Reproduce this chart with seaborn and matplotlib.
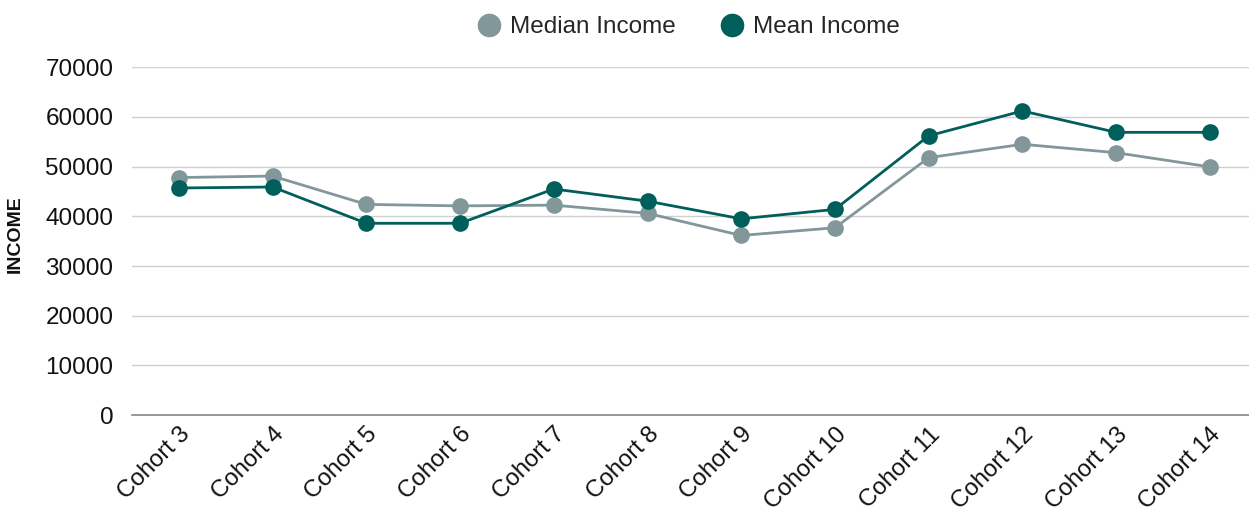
import matplotlib
matplotlib.use("Agg")
import matplotlib.pyplot as plt
import seaborn as sns
import pandas as pd
from matplotlib.lines import Line2D

cohorts = ["Cohort 3", "Cohort 4", "Cohort 5", "Cohort 6", "Cohort 7", "Cohort 8",
           "Cohort 9", "Cohort 10", "Cohort 11", "Cohort 12", "Cohort 13", "Cohort 14"]
median_income = [47800, 48100, 42400, 42100, 42250, 40600, 36150, 37700, 51800, 54500, 52800, 49950]
mean_income = [45700, 45900, 38600, 38600, 45500, 43050, 39500, 41400, 56200, 61200, 56900, 56900]
series_names = ["Median Income", "Mean Income"]
colors = ["#82979a", "#005f5a"]
yticks = [0, 10000, 20000, 30000, 40000, 50000, 60000, 70000]

df = pd.DataFrame({
    "Cohort": cohorts * 2,
    "Income": median_income + mean_income,
    "Series": [series_names[0]] * len(cohorts) + [series_names[1]] * len(cohorts),
})

sns.set_style("white")
plt.rcParams["font.family"] = ["Liberation Sans", "DejaVu Sans"]

fig = plt.figure(figsize=(12.49, 5.17), dpi=100)
ax = fig.add_axes([0.1057, 0.197, 0.9005, 0.673])

sns.lineplot(data=df, x="Cohort", y="Income", hue="Series", palette=colors,
             marker="o", markersize=12, markeredgewidth=0, linewidth=2.0,
             sort=False, ax=ax, legend=False)

ax.set_xlim(-0.5, len(cohorts) - 0.5)
ax.set_ylim(0, 70000)
ax.set_yticks(yticks)
ax.set_yticklabels([str(v) for v in yticks], fontsize=17.5, color="#111111")
ax.yaxis.grid(True, color="#d0d0d0", linewidth=1.0)
ax.set_axisbelow(True)
for s in ["top", "right", "left"]:
    ax.spines[s].set_visible(False)
ax.spines["bottom"].set_color("#888888")
ax.spines["bottom"].set_linewidth(1.2)
ax.tick_params(axis="y", length=0, pad=13.5)
ax.tick_params(axis="x", length=0, pad=6)
ax.set_xticks(range(len(cohorts)))
ax.set_xticklabels(cohorts, rotation=45, ha="right", rotation_mode="anchor",
                   fontsize=17.3, color="#111111")
ax.set_xlabel("")
ax.set_ylabel("")
fig.text(15 / 1249, 1 - 234 / 517, "INCOME", rotation=90, fontsize=14,
         fontweight="bold", ha="center", va="center", color="#111111")

handles = [Line2D([0], [0], marker="o", linestyle="", markersize=17,
                  markerfacecolor=c, markeredgewidth=0) for c in colors]
fig.legend(handles, series_names, loc="center", bbox_to_anchor=(0.551, 0.947),
           ncol=2, frameon=False, fontsize=17.5, handletextpad=0.38,
           columnspacing=1.8, handlelength=1.0)

fig.savefig("out.png", dpi=100)
